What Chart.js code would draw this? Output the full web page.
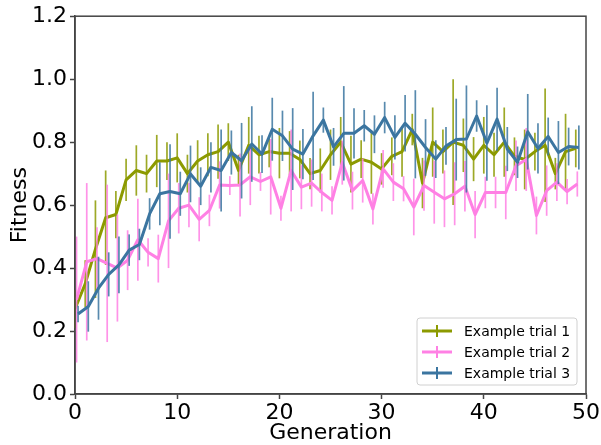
<!DOCTYPE html>
<html>
<head>
<meta charset="utf-8">
<script src="https://cdn.jsdelivr.net/npm/chart.js@4.4.1/dist/chart.umd.min.js"></script>
<style>
html, body { margin: 0; padding: 0; background: #fff; }
</style>
</head>
<body>
<canvas id="chart" width="601" height="445"></canvas>
<script>
// --- DATA ---
const generations = [...Array(50).keys()];
const seriesLabels = ['Example trial 1', 'Example trial 2', 'Example trial 3'];
const xTicks = [0, 10, 20, 30, 40, 50];
const yTicks = [0, 0.2, 0.4, 0.6, 0.8, 1.0, 1.2];

const trial1 = [0.27, 0.35, 0.46, 0.56, 0.57, 0.68, 0.71, 0.70, 0.74, 0.74,
    0.75, 0.70, 0.74, 0.76, 0.77, 0.80, 0.71, 0.79, 0.76, 0.77,
    0.765, 0.765, 0.745, 0.70, 0.71, 0.76, 0.80, 0.73, 0.746, 0.736,
    0.715, 0.755, 0.77, 0.84, 0.67, 0.80, 0.77, 0.80, 0.79, 0.746,
    0.79, 0.76, 0.80, 0.755, 0.745, 0.77, 0.79, 0.70, 0.77, 0.78];
const trial1Err = [0.06, 0.075, 0.155, 0.15, 0.075, 0.067, 0.08, 0.06, 0.083, 0.06,
    0.078, 0.06, 0.066, 0.068, 0.086, 0.06, 0.05, 0.09, 0.06, 0.05,
    0.08, 0.07, 0.06, 0.05, 0.07, 0.08, 0.08, 0.09, 0.06, 0.10,
    0.05, 0.06, 0.08, 0.05, 0.08, 0.11, 0.07, 0.20, 0.085, 0.07,
    0.09, 0.07, 0.11, 0.06, 0.095, 0.06, 0.18, 0.05, 0.12, 0.06];

const trial2 = [0.30, 0.42, 0.43, 0.415, 0.40, 0.425, 0.49, 0.45, 0.43, 0.55,
    0.59, 0.60, 0.555, 0.583, 0.664, 0.662, 0.664, 0.69, 0.675, 0.69,
    0.59, 0.71, 0.657, 0.67, 0.64, 0.615, 0.735, 0.646, 0.678, 0.588,
    0.715, 0.673, 0.652, 0.594, 0.662, 0.641, 0.62, 0.636, 0.66, 0.57,
    0.64, 0.64, 0.64, 0.725, 0.745, 0.567, 0.646, 0.673, 0.643, 0.667];
const trial2Err = [0.20, 0.25, 0.10, 0.25, 0.17, 0.095, 0.13, 0.045, 0.076, 0.15,
    0.08, 0.07, 0.07, 0.05, 0.075, 0.03, 0.10, 0.09, 0.03, 0.12,
    0.04, 0.13, 0.07, 0.075, 0.06, 0.045, 0.07, 0.06, 0.07, 0.05,
    0.06, 0.06, 0.04, 0.09, 0.08, 0.10, 0.09, 0.10, 0.08, 0.075,
    0.05, 0.05, 0.085, 0.08, 0.10, 0.06, 0.08, 0.06, 0.04, 0.04];

const trial3 = [0.254, 0.278, 0.336, 0.38, 0.41, 0.457, 0.475, 0.572, 0.636, 0.643,
    0.636, 0.699, 0.66, 0.72, 0.71, 0.767, 0.741, 0.794, 0.762, 0.841,
    0.82, 0.778, 0.762, 0.82, 0.87, 0.785, 0.828, 0.828, 0.852, 0.825,
    0.878, 0.815, 0.86, 0.825, 0.783, 0.746, 0.788, 0.808, 0.81, 0.883,
    0.797, 0.873, 0.778, 0.736, 0.833, 0.78, 0.818, 0.767, 0.786, 0.783];
const trial3Err = [0.026, 0.08, 0.10, 0.07, 0.09, 0.05, 0.05, 0.05, 0.10, 0.15,
    0.07, 0.09, 0.06, 0.08, 0.13, 0.07, 0.12, 0.12, 0.06, 0.10,
    0.08, 0.13, 0.08, 0.14, 0.04, 0.06, 0.15, 0.08, 0.05, 0.06,
    0.05, 0.07, 0.09, 0.14, 0.09, 0.06, 0.06, 0.13, 0.17, 0.05,
    0.12, 0.10, 0.07, 0.05, 0.12, 0.08, 0.06, 0.10, 0.06, 0.07];

const colors = ['#8c9a00', '#ff80e4', '#3b75a0'];
const xShift = [0, 0.15, 0.3];   // the trials are nudged sideways a little

const FONT = "'DejaVu Sans', sans-serif";
const AXIS = '#444';

const allValues = [trial1, trial2, trial3];
const allErrors = [trial1Err, trial2Err, trial3Err];

function makeDataset(i) {
    return {
        label: seriesLabels[i],
        data: generations.map((g, k) => ({ x: g + xShift[i], y: allValues[i][k] })),
        borderColor: colors[i],
        backgroundColor: colors[i],
        borderWidth: 3,
        pointRadius: 0,
        tension: 0,
        borderJoinStyle: 'round',
        order: 2 - i,
        errors: allErrors[i]
    };
}

// --- PLUGINS ---
const errorBars = {
    id: 'errorBars',
    beforeDatasetDraw(chart, args) {
        const ds = chart.data.datasets[args.index];
        const xs = chart.scales.x, ys = chart.scales.y;
        const ctx = chart.ctx;
        ctx.save();
        ctx.strokeStyle = ds.borderColor;
        ctx.globalAlpha = 0.85;
        ctx.lineWidth = 1.7;
        ds.data.forEach((p, k) => {
            const e = ds.errors[k];
            const px = xs.getPixelForValue(p.x);
            ctx.beginPath();
            ctx.moveTo(px, ys.getPixelForValue(p.y - e));
            ctx.lineTo(px, ys.getPixelForValue(p.y + e));
            ctx.stroke();
        });
        ctx.restore();
    }
};

const frameAndLegend = {
    id: 'frameAndLegend',
    afterDraw(chart) {
        const { ctx, chartArea: a } = chart;
        ctx.save();
        ctx.strokeStyle = AXIS;
        ctx.lineWidth = 1.5;
        ctx.strokeRect(a.left, a.top, a.right - a.left, a.bottom - a.top);

        // legend box, lower right
        const w = 160, h = 67;
        const bx = a.right - 9 - w, by = a.bottom - 9 - h;
        ctx.globalAlpha = 0.8;
        ctx.fillStyle = '#fff';
        ctx.beginPath();
        ctx.roundRect(bx, by, w, h, 3);
        ctx.fill();
        ctx.globalAlpha = 1;
        ctx.strokeStyle = '#d0d0d0';
        ctx.lineWidth = 1;
        ctx.stroke();

        ctx.font = '14px ' + FONT;
        ctx.textBaseline = 'middle';
        chart.data.datasets.forEach((ds, i) => {
            const cy = by + 13 + i * 21;
            ctx.strokeStyle = ds.borderColor;
            ctx.lineWidth = 3;
            ctx.beginPath();
            ctx.moveTo(bx + 5, cy);
            ctx.lineTo(bx + 35, cy);
            ctx.stroke();
            ctx.lineWidth = 2;
            ctx.beginPath();
            ctx.moveTo(bx + 20, cy - 6);
            ctx.lineTo(bx + 20, cy + 6);
            ctx.stroke();
            ctx.fillStyle = '#000';
            ctx.fillText(ds.label, bx + 47, cy + 1);
        });
        ctx.restore();
    }
};

// --- CHART ---
new Chart(document.getElementById('chart'), {
    type: 'line',
    data: { datasets: [0, 1, 2].map(makeDataset) },
    options: {
        responsive: false,
        animation: false,
        devicePixelRatio: 1,
        layout: { padding: { top: 16, right: 14, left: 0, bottom: 0 } },
        plugins: { legend: { display: false }, tooltip: { enabled: false } },
        scales: {
            x: {
                type: 'linear',
                min: 0, max: 50,
                afterFit: s => { s.height = 51; },
                afterBuildTicks: s => { s.ticks = xTicks.map(v => ({ value: v })); },
                ticks: { color: '#000', font: { family: FONT, size: 22 }, padding: 1, maxRotation: 0 },
                grid: { drawOnChartArea: false, drawTicks: true, tickLength: 5, color: AXIS, tickWidth: 1.5 },
                border: { display: true, color: AXIS, width: 1.5 },
                title: { display: true, text: 'Generation', color: '#000',
                    font: { family: FONT, size: 22, lineHeight: 1 }, padding: { top: 0, bottom: 1 } }
            },
            y: {
                min: 0, max: 1.2,
                afterFit: s => { s.width = 75; },
                afterBuildTicks: s => { s.ticks = yTicks.map(v => ({ value: v })); },
                ticks: { color: '#000', font: { family: FONT, size: 22 }, padding: 3,
                    callback: v => v.toFixed(1) },
                grid: { drawOnChartArea: false, drawTicks: true, tickLength: 5, color: AXIS, tickWidth: 1.5 },
                border: { display: true, color: AXIS, width: 1.5 },
                title: { display: true, text: 'Fitness', color: '#000',
                    font: { family: FONT, size: 22, lineHeight: 1 }, padding: { top: 9, bottom: 0 } }
            }
        }
    },
    plugins: [errorBars, frameAndLegend]
});
</script>
</body>
</html>
